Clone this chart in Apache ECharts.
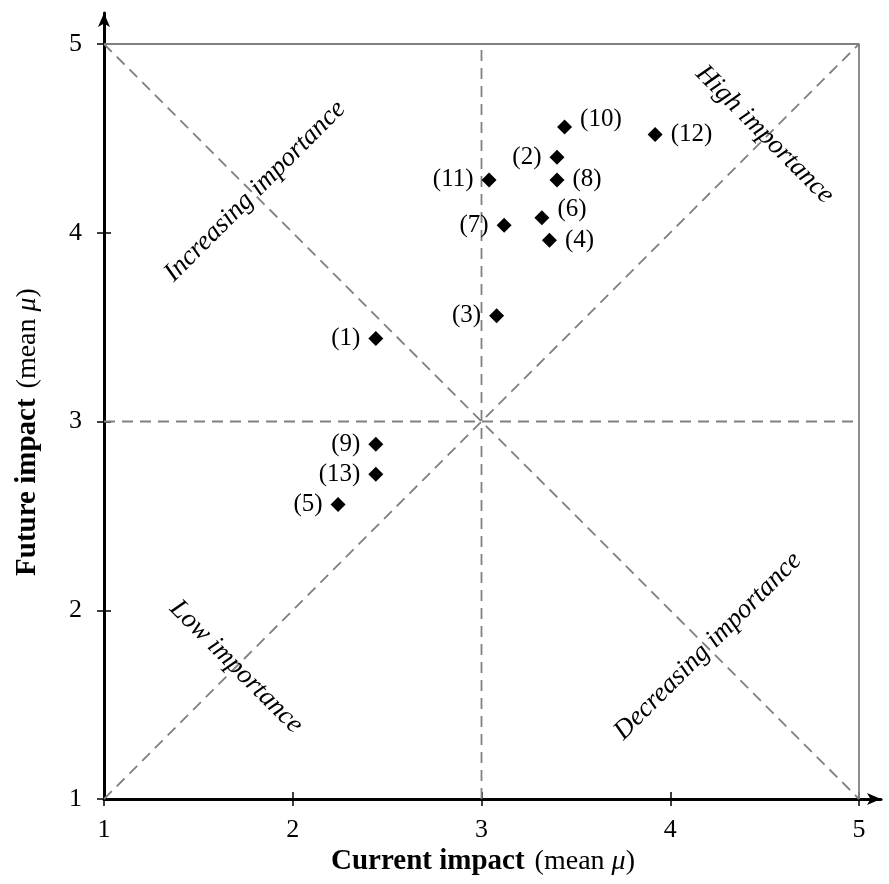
<!DOCTYPE html>
<html>
<head>
<meta charset="utf-8">
<script src="https://cdn.jsdelivr.net/npm/echarts@6/dist/echarts.min.js"></script>
<style>
html,body{margin:0;padding:0;background:#fff;}
#chart{width:889px;height:884px;}
</style>
</head>
<body>
<div id="chart"></div>
<script>
// ---- data ----
var ids = [1, 2, 3, 4, 5, 6, 7, 8, 9, 10, 11, 12, 13];
var currentImpact = [2.44, 3.40, 3.08, 3.36, 2.24, 3.32, 3.12, 3.40, 2.44, 3.44, 3.04, 3.92, 2.44];
var futureImpact  = [3.44, 4.40, 3.56, 3.96, 2.56, 4.08, 4.04, 4.28, 2.88, 4.56, 4.28, 4.52, 2.72];
var tickValues = [1, 2, 3, 4, 5];
var quadrantNames = ['Increasing importance', 'High importance', 'Low importance', 'Decreasing importance'];

var SERIF = '"Liberation Serif", "DejaVu Serif", serif';
var GRAY = '#808080';
var rightLabelled = {4: true, 6: true, 8: true, 10: true, 12: true};
var raised = {6: true, 10: true};

var pts = ids.map(function (id, i) {
  var right = !!rightLabelled[id];
  return {
    value: [currentImpact[i], futureImpact[i]],
    label: {
      position: right ? 'right' : 'left',
      offset: raised[id] ? [0, -8] : [0, 0]
    },
    name: '(' + id + ')'
  };
});

var quadrantPos = [[1.80, 4.22], [4.50, 4.52], [1.70, 1.70], [4.20, 1.81]];
var quadrantRot = [45, -45, -45, 45];
var quadData = quadrantNames.map(function (n, i) {
  return {value: quadrantPos[i], name: n, label: {rotate: quadrantRot[i]}};
});

function dashed(data) {
  return {
    type: 'line', data: data, symbol: 'none', silent: true, z: 1,
    lineStyle: {color: GRAY, width: 1.8, type: [11, 7]}
  };
}

var xMax = 1 + 777 / 188.75;
var yMax = 1 + 786 / 188.75;

function tickOnly(max, pos) {
  return {type: 'value', min: 1, max: max, interval: 1, position: pos,
    splitLine: {show: false}, axisLine: {show: false},
    axisTick: {show: true, inside: true, customValues: tickValues, length: 7, lineStyle: {color: '#000', width: 1.5}},
    axisLabel: {show: false}};
}

function mainAxis(max, pos, margin) {
  return {
    type: 'value', min: 1, max: max, interval: 1, position: pos,
    splitLine: {show: false},
    axisLine: {show: true, onZero: false, lineStyle: {color: '#000', width: 3}, symbol: ['none', 'arrow'], symbolSize: [9, 14]},
    axisTick: {show: true, customValues: tickValues, length: 7, lineStyle: {color: '#000', width: 1.5}},
    axisLabel: {customValues: tickValues, color: '#000', fontFamily: SERIF, fontSize: 26, margin: margin}
  };
}

var titleRich = {
  b: {fontFamily: SERIF, fontSize: 29, fontWeight: 'bold', fill: '#000'},
  s: {fontFamily: SERIF, fontSize: 28, fill: '#000', width: 10},
  r: {fontFamily: SERIF, fontSize: 28, fill: '#000'},
  i: {fontFamily: SERIF, fontSize: 28, fontStyle: 'italic', fill: '#000'}
};

var option = {
  animation: false,
  backgroundColor: '#fff',
  grid: {left: 104, right: 8, top: 13, bottom: 85, containLabel: false},
  xAxis: [mainAxis(xMax, 'bottom', 18), tickOnly(xMax, 'bottom')],
  yAxis: [mainAxis(yMax, 'left', 22), tickOnly(yMax, 'left')],
  graphic: [
    {type: 'text', x: 483, y: 862,
     style: {text: '{b|Current impact}{s| }{r|(mean }{i|μ}{r|)}', align: 'center', verticalAlign: 'middle', rich: titleRich},
     z: 10},
    {type: 'text', x: 28, y: 432, rotation: Math.PI / 2,
     style: {text: '{b|Future impact}{s| }{r|(mean }{i|μ}{r|)}', align: 'center', verticalAlign: 'middle', rich: titleRich},
     z: 10}
  ],
  series: [
    {type: 'line', data: [[1, 5], [5, 5], [5, 1]], symbol: 'none', silent: true, z: 1,
     lineStyle: {color: GRAY, width: 1.8}},
    dashed([[1, 1], [5, 5]]),
    dashed([[1, 5], [5, 1]]),
    dashed([[3, 1], [3, 5]]),
    dashed([[1, 3], [5, 3]]),
    {type: 'scatter', data: quadData, symbolSize: 0, silent: true, z: 3,
     itemStyle: {opacity: 1},
     label: {show: true, position: 'inside', formatter: '{b}', color: '#000',
             fontFamily: SERIF, fontStyle: 'italic', fontSize: 27}},
    {type: 'scatter', data: pts, symbol: 'diamond', symbolSize: 15, z: 5,
     itemStyle: {color: '#000', opacity: 1},
     label: {show: true, formatter: '{b}', distance: 8, color: '#000',
             fontFamily: SERIF, fontSize: 25}}
  ]
};

var chart = echarts.init(document.getElementById('chart'), null, {renderer: 'canvas'});
chart.setOption(option);
</script>
</body>
</html>
